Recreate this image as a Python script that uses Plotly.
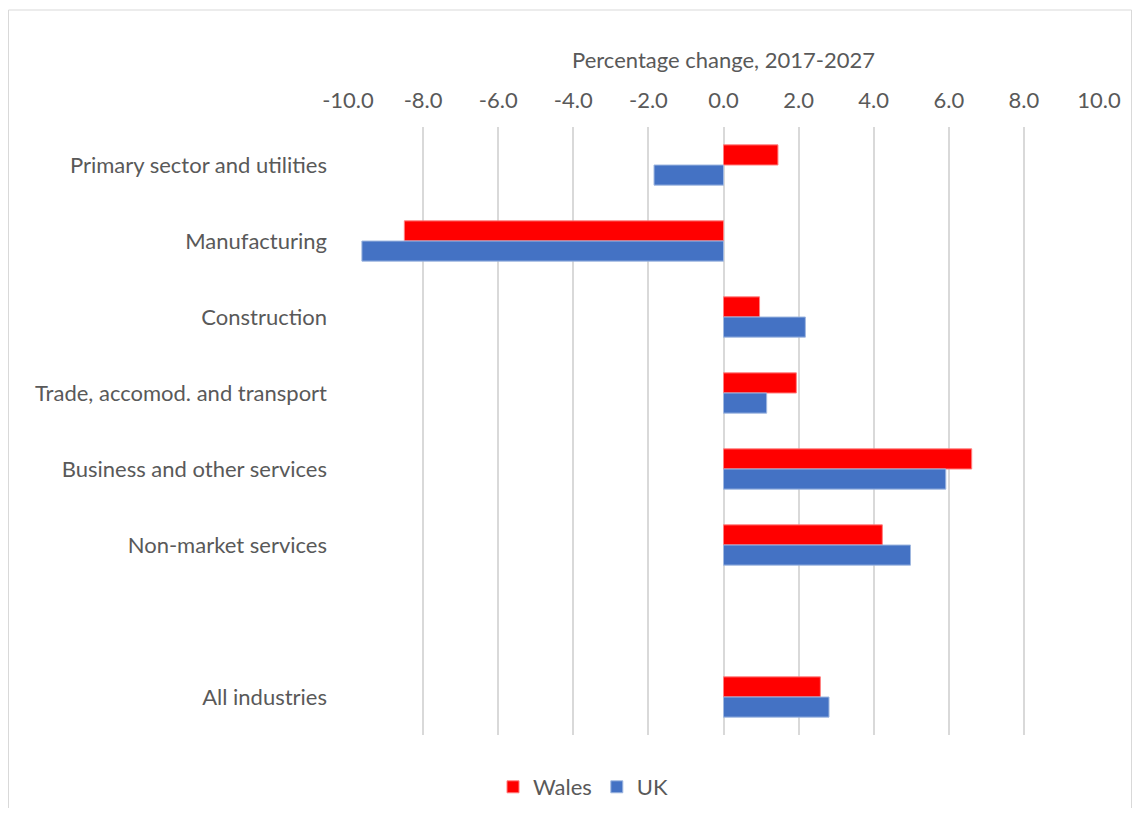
import plotly.graph_objects as go

# DATA
CATEGORIES = ['Primary sector and utilities', 'Manufacturing', 'Construction',
              'Trade, accomod. and transport', 'Business and other services',
              'Non-market services', ' ', 'All industries']
WALES = [1.45, -8.50, 0.96, 1.94, 6.61, 4.23, None, 2.58]
UK = [-1.85, -9.63, 2.18, 1.15, 5.92, 4.98, None, 2.81]
TICK_VALS = [-10, -8, -6, -4, -2, 0, 2, 4, 6, 8, 10]
TICK_TEXT = ['-10.0', '-8.0', '-6.0', '-4.0', '-2.0', '0.0', '2.0', '4.0', '6.0', '8.0', '10.0']

FONT = 'Lato, "Open Sans", sans-serif'
TEXT = '#595959'
GRID = '#d9d9d9'

# page offset of the figure (body margin) and plot box in page pixels
OFF = 8
PL, PR, PT, PB = 348, 1099, 127, 735
W, H = 1124, 800

fig = go.Figure()
fig.add_trace(go.Bar(y=CATEGORIES, x=WALES, name='Wales', orientation='h',
                     marker=dict(color='#ff0000', line=dict(color='#ff8080', width=1))))
fig.add_trace(go.Bar(y=CATEGORIES, x=UK, name='UK', orientation='h',
                     marker=dict(color='#4472c4', line=dict(color='#a0b8e0', width=1))))

fig.update_layout(barmode='group', bargap=0.47, bargroupgap=0,
                  width=W, height=H,
                  paper_bgcolor='white', plot_bgcolor='white',
                  font=dict(family=FONT, size=22, color=TEXT),
                  margin=dict(l=PL - OFF, r=W - (PR - OFF), t=PT - OFF, b=H - (PB - OFF),
                              autoexpand=False),
                  showlegend=True,
                  legend=dict(orientation='h', xref='container', yref='container',
                              x=(583 - OFF) / W, y=1 - (787 - OFF) / H,
                              xanchor='center', yanchor='middle',
                              font=dict(size=22, color=TEXT), traceorder='normal'))

fig.update_xaxes(side='top', range=[-10, 10], tickvals=TICK_VALS, ticktext=TICK_TEXT,
                 showgrid=True, gridcolor=GRID, gridwidth=2,
                 zeroline=True, zerolinecolor=GRID, zerolinewidth=2,
                 showline=False, ticks='', ticklabelstandoff=14,
                 title=dict(text='Percentage change, 2017-2027', standoff=10,
                            font=dict(size=22, color=TEXT)))
fig.update_yaxes(categoryorder='array', categoryarray=CATEGORIES, autorange='reversed',
                 showgrid=False, showline=False, ticks='', ticklabelstandoff=20)

# outer chart border
fig.add_shape(type='rect', xref='paper', yref='paper',
              x0=(OFF + 0.5 - PL) / (PR - PL), x1=(OFF + W - 0.5 - PL) / (PR - PL),
              y0=(PB - 830) / (PB - PT), y1=(PB - 10) / (PB - PT),
              line=dict(color='#d9d9d9', width=1), fillcolor='rgba(0,0,0,0)', layer='below')

fig.write_html('out.html')
